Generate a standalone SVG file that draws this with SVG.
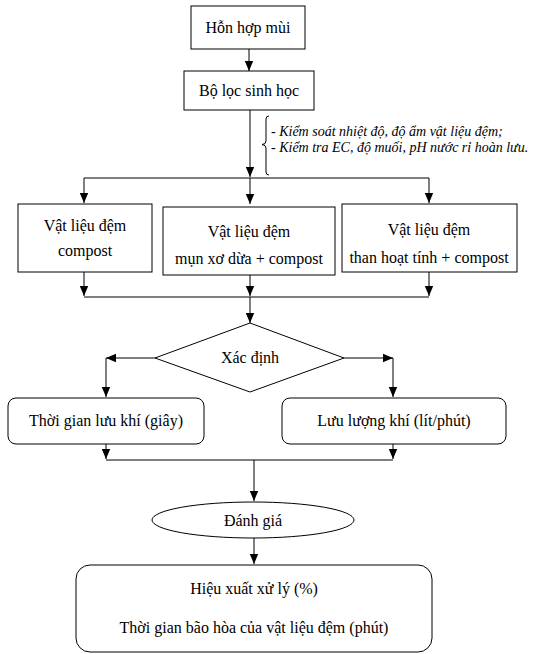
<svg xmlns="http://www.w3.org/2000/svg" width="536" height="654" viewBox="0 0 536 654">
  <defs>
    <marker id="arr" markerUnits="userSpaceOnUse" markerWidth="10" markerHeight="10" viewBox="0 0 10 10" refX="10" refY="5" orient="auto">
      <path d="M0,0.8 L10,5 L0,9.2 Z" fill="#000"/>
    </marker>
    <style>
      .box { fill: #fff; stroke: #000; stroke-width: 1; }
      .ln { fill: none; stroke: #000; stroke-width: 1; }
      .ar { fill: none; stroke: #000; stroke-width: 1; marker-end: url(#arr); }
      .t { font-family: "Liberation Serif", "Times New Roman", serif; font-size: 16px; fill: #000; text-anchor: middle; }
      .it { font-family: "Liberation Serif", "Times New Roman", serif; font-size: 14px; font-style: italic; fill: #000; }
    </style>
  </defs>
  <rect width="536" height="654" fill="#fff"/>

  <g id="connectors">
    <path class="ar" d="M249,49 L249,71"/>
    <path class="ar" d="M250,110 L250,177"/>
    <path class="ln" d="M84,178 L429,178"/>
    <path class="ar" d="M84,178 L84,203"/>
    <path class="ar" d="M250,178 L250,204"/>
    <path class="ar" d="M429,178 L429,203"/>
    <path class="ar" d="M84,272 L84,296"/>
    <path class="ar" d="M250,275 L250,296"/>
    <path class="ar" d="M429,272 L429,296"/>
    <path class="ln" d="M84,297 L429,297"/>
    <path class="ar" d="M250,297 L250,323"/>
    <path class="ar" d="M155,358 L106,358"/>
    <path class="ar" d="M106,358 L106,397"/>
    <path class="ar" d="M344,358 L393,358"/>
    <path class="ar" d="M393,358 L393,397"/>
    <path class="ar" d="M106,444 L106,459"/>
    <path class="ar" d="M393,444 L393,459"/>
    <path class="ln" d="M106,460 L393,460"/>
    <path class="ar" d="M254,460 L254,501"/>
    <path class="ar" d="M254,538 L254,564"/>
  </g>

  <g id="note">
    <path class="ln" d="M269,116 Q266,116 266,119 L266,141 Q266,144.5 262,144.5 Q266,145 266,148 L266,172 Q266,175 269,175"/>
    <text class="it" x="271" y="136">- Kiểm soát nhiệt độ, độ ẩm vật liệu đệm;</text>
    <text class="it" x="271" y="152">- Kiểm tra EC, độ muối, pH nước rỉ hoàn lưu.</text>
  </g>

  <g id="hon-hop-mui">
    <rect class="box" x="191" y="6" width="114" height="43"/>
    <text class="t" x="248" y="33">Hỗn hợp mùi</text>
  </g>
  <g id="bo-loc">
    <rect class="box" x="184" y="71" width="130" height="39"/>
    <text class="t" x="249" y="96">Bộ lọc sinh học</text>
  </g>
  <g id="vl-compost">
    <rect class="box" x="18" y="204" width="134" height="68"/>
    <text class="t" x="85" y="231">Vật liệu đệm</text>
    <text class="t" x="85" y="256">compost</text>
  </g>
  <g id="vl-xo-dua">
    <rect class="box" x="163" y="207" width="172" height="68"/>
    <text class="t" x="249" y="237">Vật liệu đệm</text>
    <text class="t" x="249" y="264">mụn xơ dừa + compost</text>
  </g>
  <g id="vl-than">
    <rect class="box" x="342" y="204" width="175" height="68"/>
    <text class="t" x="429" y="235">Vật liệu đệm</text>
    <text class="t" x="429" y="263">than hoạt tính + compost</text>
  </g>
  <g id="xac-dinh">
    <polygon class="box" points="250,323 344,358 250,392 155,358"/>
    <text class="t" x="250" y="363">Xác định</text>
  </g>
  <g id="thoi-gian">
    <rect class="box" x="8" y="398" width="196" height="46" rx="8"/>
    <text class="t" x="106" y="426">Thời gian lưu khí (giây)</text>
  </g>
  <g id="luu-luong">
    <rect class="box" x="282" y="398" width="224" height="46" rx="8"/>
    <text class="t" x="394" y="426">Lưu lượng khí (lít/phút)</text>
  </g>
  <g id="danh-gia">
    <ellipse class="box" cx="253" cy="520" rx="101" ry="18"/>
    <text class="t" x="253" y="526">Đánh giá</text>
  </g>
  <g id="ket-qua">
    <rect class="box" x="76" y="565" width="356" height="87" rx="14"/>
    <text class="t" x="254" y="594">Hiệu xuất xử lý (%)</text>
    <text class="t" x="254" y="633">Thời gian bão hòa của vật liệu đệm (phút)</text>
  </g>
</svg>
